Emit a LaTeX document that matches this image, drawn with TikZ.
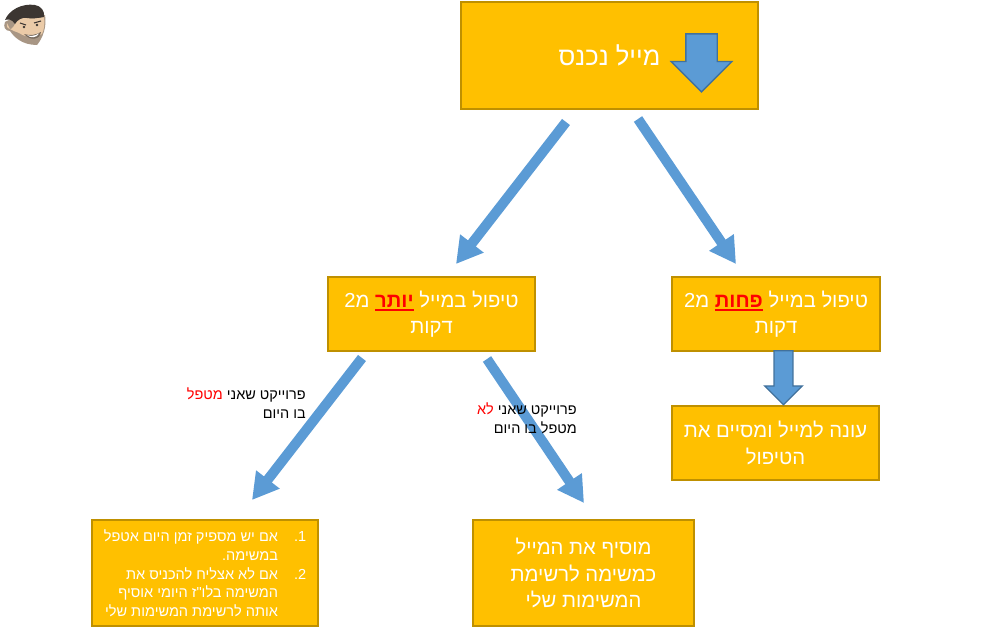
\documentclass[tikz,border=0pt]{standalone}
\usepackage{fontspec}
\usepackage{xcolor}
\usetikzlibrary{arrows.meta,shapes.arrows}
\newfontfamily\hebfont[Script=Hebrew]{Liberation Sans}
\TeXXeTstate=1
\definecolor{boxfill}{HTML}{FFC000}
\definecolor{boxline}{HTML}{BF9000}
\definecolor{arrowblue}{HTML}{5B9BD5}
\definecolor{arrowline}{HTML}{41719C}
\definecolor{skin}{HTML}{EBCBA8}
\definecolor{stubble}{HTML}{A89684}
\definecolor{hair}{HTML}{3C3632}
\newcommand{\rl}[1]{\beginR #1\endR}
\newcommand{\redword}[1]{\textcolor{red}{\beginR #1\endR}}
\newcommand{\redmark}[1]{\textcolor{red}{\bfseries\setbox0\hbox{\beginR #1\endR}\rlap{\rule[-2.6pt]{\wd0}{1.3pt}}\box0}}

\begin{document}
\begin{tikzpicture}[x=0.75pt,y=-0.75pt,
  box/.style={draw=boxline,fill=boxfill,line width=1.5pt,text=white,align=center,inner sep=0pt,font=\hebfont\fontsize{15.2}{19.9}\selectfont},
  side/.style={align=right,inner sep=0pt,font=\hebfont\fontsize{10.85}{14}\selectfont},
  flow/.style={arrowblue,line width=7.5pt,-{Triangle[length=19.5pt,width=21pt]}},
  block/.style={single arrow,shape border rotate=270,draw=arrowline,fill=arrowblue,line width=1pt,single arrow head indent=0pt}]
\useasboundingbox (0,0) rectangle (996,628);

% boxes
\node[box,minimum width=222.75pt,minimum height=80pt,font=\hebfont\fontsize{19.2}{24}\selectfont] (M) at (609.5,55.5) {\raisebox{-1.2pt}{\rl{מייל נכנס}}};
\node[box,minimum width=155pt,minimum height=55pt] (L) at (431.5,314) {\rl{מ2} \redmark{יותר} \rl{טיפול במייל}\\\rl{דקות}};
\node[box,minimum width=156pt,minimum height=55pt] (R) at (776,314) {\rl{מ2} \redmark{פחות} \rl{טיפול במייל}\\\rl{דקות}};
\node[box,minimum width=155pt,minimum height=55pt] (A) at (775.5,443) {\rl{עונה למייל ומסיים את}\\\rl{הטיפול}};
\node[box,minimum width=165.75pt,minimum height=79pt] (T) at (583.5,573) {\rl{מוסיף את המייל}\\\rl{כמשימה לרשימת}\\\rl{המשימות שלי}};
\node[box,minimum width=169pt,minimum height=79pt,font=\hebfont\fontsize{10.9}{14.1}\selectfont] (S) at (205,573) {%
  \begin{tabular}{@{}r@{\hspace{12pt}}r@{}}
    \rule{0pt}{13.3pt}\rl{אם יש מספיק זמן היום אטפל} & \rl{1.}\\
    \rl{במשימה.} & \\
    \rl{אם לא אצליח להכניס את} & \rl{2.}\\
    \rl{המשימה בלו"ז היומי אוסיף} & \\
    \rl{אותה לרשימת המשימות שלי} &
  \end{tabular}};

% block arrows
\node[block,inner sep=11.25pt,minimum height=43.5pt,minimum width=44.5pt,single arrow head extend=11pt] (D) at (701.5,55) {};
\node[block,inner sep=6.6pt,minimum height=40.5pt,minimum width=27.5pt,single arrow head extend=7pt] (E) at (783.5,373) {};

% arrows
\coordinate (a1) at (566,122);
\coordinate (b1) at (456,264);
\coordinate (a2) at (638,119);
\coordinate (b2) at (736,264);
\coordinate (a3) at (362,358);
\coordinate (b3) at (252,500);
\coordinate (a4) at (487,359);
\coordinate (b4) at (584,503);
\draw[flow] (a1) -- (b1);
\draw[flow] (a2) -- (b2);
\draw[flow] (a3) -- (b3);
\draw[flow] (a4) -- (b4);

% side labels
\node[side,anchor=east] (P) at (306,403) {\redword{מטפל} \rl{פרוייקט שאני}\\\rl{בו היום}};
\node[side,anchor=east] (Q) at (577,418) {\redword{לא} \rl{פרוייקט שאני}\\\rl{מטפל בו היום}};

% face
\fill[stubble] (5,22) .. controls (3,27) and (5,31) .. (10,31) .. controls (14,37) and (22,45) .. (37,45)
  .. controls (43,38) and (47,26) .. (45,15) -- (20,14) -- cycle;
\fill[skin] (7,23) .. controls (6,27) and (8,29) .. (11,29) .. controls (13,28) and (14,26) .. (15,24)
  .. controls (17,20) and (22,17) .. (27,18) .. controls (32,19) and (38,18) .. (44,17)
  .. controls (45,24) and (44,30) .. (42,34) .. controls (36,38) and (26,38) .. (19,33) .. controls (15,31) and (12,31) .. (10,29) -- cycle;
\fill[hair] (5,20) .. controls (9,10) and (22,3) .. (35,5) .. controls (41,6) and (45,11) .. (44,17)
  .. controls (38,18) and (32,19) .. (27,18) .. controls (22,17) and (17,20) .. (15,24) .. controls (12,19) and (8,19) .. (5,20) -- cycle;
\draw[hair,line width=0.8pt] (20,23) -- (26,25) (34,23) -- (41,21);
\fill[hair] (24,27) circle (1.3) (37,25) circle (1.3);
\fill[stubble!70!black] (24,34) .. controls (30,36) and (36,35) .. (41,32) .. controls (40,40) and (30,41) .. (24,34) -- cycle;
\fill[white] (27,35) .. controls (30,36.5) and (35,36) .. (39,33.5) .. controls (37,38) and (30,38.5) .. (27,35) -- cycle;
\end{tikzpicture}
\end{document}
